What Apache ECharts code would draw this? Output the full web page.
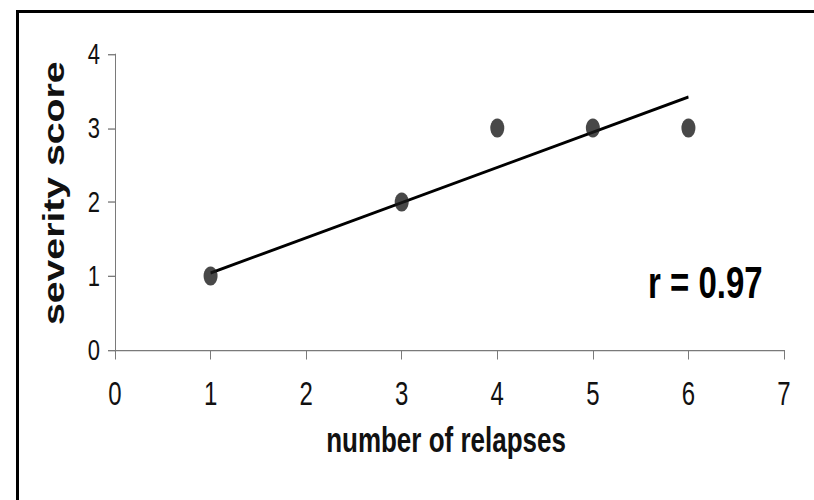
<!DOCTYPE html>
<html>
<head>
<meta charset="utf-8">
<script src="https://cdn.jsdelivr.net/npm/echarts@6/dist/echarts.min.js"></script>
<style>
  html, body { margin: 0; padding: 0; background: #fff; overflow: hidden; }
  #stage { position: relative; width: 814px; height: 500px; overflow: hidden; background: #fff; }
  /* the figure is drawn at 370px high and stretched to fill 500px */
  #chart { position: absolute; left: 0; top: 0; width: 814px; height: 370px;
           transform-origin: 0 0; transform: scaleY(1.35135); }
  #frame { position: absolute; left: 16px; top: 10px; width: 900px; height: 600px;
           border-top: 3px solid #000; border-left: 3px solid #000; pointer-events: none; }
</style>
</head>
<body>
<div id="stage">
  <div id="chart"></div>
  <div id="frame"></div>
</div>
<script>
// observations: number of relapses vs. severity score
const relapses = [1, 3, 4, 5, 6];
const severity = [1, 2, 3, 3, 3];

// fitted trend line end points
const trendX = [1, 6];
const trendY = [1.04, 3.42];

// axis ranges
const xMin = 0, xMax = 7, xStep = 1;
const yMin = 0, yMax = 4, yStep = 1;

const xTitle = 'number of relapses';
const yTitle = 'severity score';
const corrText = 'r = 0.97';

const FONT = "'Liberation Sans', Arial, sans-serif";
const AXIS_GRAY = '#7a7a7a';

const chart = echarts.init(document.getElementById('chart'), null, { renderer: 'svg' });

const points = relapses.map((x, i) => [x, severity[i]]);
const trend = trendX.map((x, i) => [x, trendY[i]]);

chart.setOption({
  animation: false,
  backgroundColor: '#fff',
  grid: { left: 115, right: 30, top: 40, bottom: 111, containLabel: false },
  xAxis: {
    type: 'value', min: xMin, max: xMax, interval: xStep,
    name: xTitle, nameLocation: 'middle', nameGap: 54,
    nameTextStyle: { fontFamily: FONT, fontSize: 26, fontWeight: 'bold', color: '#111', padding: [0, 7, 0, 0] },
    axisLine: { show: true, onZero: false, lineStyle: { color: AXIS_GRAY, width: 1 } },
    axisTick: { show: true, inside: false, length: 7, lineStyle: { color: AXIS_GRAY, width: 1 } },
    axisLabel: { fontFamily: FONT, fontSize: 24, color: '#111', margin: 20 },
    splitLine: { show: false }
  },
  yAxis: {
    type: 'value', min: yMin, max: yMax, interval: yStep,
    name: yTitle, nameLocation: 'middle', nameGap: 47,
    nameTextStyle: { fontFamily: FONT, fontSize: 29, fontWeight: 'bold', color: '#111', padding: [0, 0, 0, 13] },
    axisLine: { show: true, onZero: false, lineStyle: { color: AXIS_GRAY, width: 1 } },
    axisTick: { show: true, inside: false, length: 7, lineStyle: { color: AXIS_GRAY, width: 1 } },
    axisLabel: { fontFamily: FONT, fontSize: 22, color: '#111', margin: 15 },
    splitLine: { show: false }
  },
  series: [
    {
      type: 'line',
      data: trend,
      showSymbol: false,
      symbol: 'none',
      lineStyle: { color: '#000', width: 2.2 },
      silent: true,
      z: 2
    },
    {
      type: 'scatter',
      data: points,
      symbol: 'circle',
      symbolSize: 14,
      itemStyle: { color: '#1a1a1a' },
      z: 3
    }
  ],
  graphic: [
    {
      type: 'text',
      left: 648,
      top: 192,
      style: { text: corrText, fontFamily: FONT, fontSize: 33, fontWeight: 'bold', fill: '#000' }
    }
  ]
});
</script>
</body>
</html>
